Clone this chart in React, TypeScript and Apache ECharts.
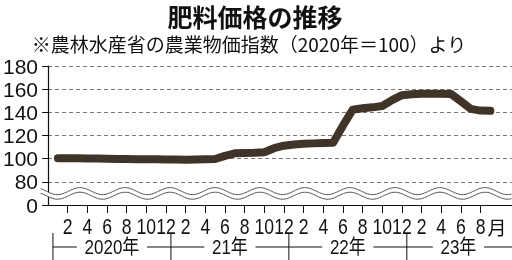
import React, { useEffect, useRef } from "react";
import * as echarts from "echarts";

const titleText = "肥料価格の推移";
const subtitleText = "※農林水産省の農業物価指数（2020年＝100）より";
const yearLabels = ["2020年", "21年", "22年", "23年"];
const values2020 = [100.4, 100.4, 100.3, 100.2, 100.1, 99.9, 99.8, 99.7, 99.6, 99.5, 99.4, 99.3];
const values2021 = [99.2, 99.1, 99.2, 99.4, 99.7, 102.4, 104.6, 104.9, 105.1, 105.6, 109.0, 111.2];
const values2022 = [112.3, 112.8, 113.2, 113.5, 113.7, 128.5, 142.3, 143.5, 144.3, 145.5, 150.5, 154.8];
const values2023 = [155.6, 156.0, 156.0, 156.0, 155.8, 149.5, 143.0, 141.5, 141.3];
const yTickValues = [60, 80, 100, 120, 140, 160, 180]; // 60 shown as "0" (broken axis)
const monthTicks = [2, 4, 6, 8, 10, 12, 14, 16, 18, 20, 22, 24, 26, 28, 30, 32, 34, 36, 38, 40, 42, 44];
const monthLabels = ["2", "4", "6", "8", "10", "12", "2", "4", "6", "8", "10", "12", "2", "4", "6", "8", "10", "12", "2", "4", "6", "8"];
const lastMonthSuffix = "月";

const LATIN = "'Liberation Sans', Arial, 'Noto Sans CJK JP', sans-serif";
const CJK = "'Noto Sans CJK JP', sans-serif";

export default function App() {
  const ref = useRef<HTMLDivElement>(null);
  useEffect(() => {
    const chart = echarts.init(ref.current!, null, { renderer: "svg" });
    const all = [...values2020, ...values2021, ...values2022, ...values2023];
    const data = all.map((v, k) => [k + 1, v]);
    chart.setOption({
      animation: false,
      grid: { left: 44, right: 0, top: 66, bottom: 55 },
      xAxis: {
        type: "value",
        min: 0,
        max: 47.2,
        interval: 2,
        splitLine: { show: false },
        axisLine: { show: true, lineStyle: { color: "#111", width: 1.2 } },
        axisTick: { show: true, customValues: monthTicks, length: 8, lineStyle: { color: "#111", width: 1 } },
        axisLabel: { show: false },
      },
      yAxis: {
        type: "value",
        min: yTickValues[0],
        max: yTickValues[yTickValues.length - 1],
        interval: 20,
        axisLine: { show: true, lineStyle: { color: "#111", width: 1.2 } },
        axisTick: { show: true, length: 6, lineStyle: { color: "#111" } },
        axisLabel: {
          margin: 10,
          color: "#111",
          fontSize: 21,
          fontFamily: LATIN,
          formatter: (v: number) => (v === yTickValues[0] ? "0" : String(v)),
        },
        splitLine: { show: true, lineStyle: { color: "#777", type: [4, 3], width: 1 } },
      },
      series: [
        {
          type: "line",
          data,
          showSymbol: false,
          symbol: "none",
          lineStyle: { color: "#403327", width: 8, cap: "round", join: "round" },
        },
      ],
    });

    const px = (x: number, y: number) => chart.convertToPixel({ gridIndex: 0 }, [x, y]) as number[];
    const [x0, yBase] = px(0, 60);
    const waveY = px(0, 70)[1];
    const top: number[][] = [];
    const bot: number[][] = [];
    for (let x = x0 - 7.5; x <= 512; x += 1.5) {
      const c = waveY - 3.5 * Math.cos((2 * Math.PI * (x - 80)) / 45);
      top.push([x, c - 2.3]);
      bot.push([x, c + 2.3]);
    }
    const g: any[] = [
      { type: "polygon", z: 100, shape: { points: [...top, ...bot.slice().reverse()] }, style: { fill: "#fff" } },
      { type: "polyline", z: 101, shape: { points: top }, style: { stroke: "#555", lineWidth: 1, fill: null } },
      { type: "polyline", z: 101, shape: { points: bot }, style: { stroke: "#555", lineWidth: 1, fill: null } },
      {
        type: "text",
        z: 100,
        style: { text: titleText, x: 255, y: 16, align: "center", verticalAlign: "middle", font: `bold 25px ${CJK}`, fill: "#111" },
      },
      {
        type: "text",
        z: 100,
        style: { text: subtitleText, x: 249, y: 43, align: "center", verticalAlign: "middle", font: `19px ${CJK}`, fill: "#111" },
      },
    ];
    // month tick labels (condensed to match the reference lettering)
    monthTicks.forEach((m, k) => {
      const [tx] = px(m, 60);
      g.push({
        type: "text",
        z: 100,
        x: tx,
        y: yBase + 21,
        scaleX: 0.8,
        style: { text: monthLabels[k], x: 0, y: 0, align: "center", verticalAlign: "middle", font: `22px ${LATIN}`, fill: "#111" },
      });
    });
    const lastTick = px(monthTicks[monthTicks.length - 1], 60);
    g.push({
      type: "text",
      z: 100,
      style: { text: lastMonthSuffix, x: lastTick[0] + 7, y: yBase + 21, align: "left", verticalAlign: "middle", font: `19px ${CJK}`, fill: "#111" },
    });
    // year row
    const rowY = yBase + 42;
    const seps = [0.5, 12.5, 24.5, 36.5].map((m) => px(m, 60)[0]);
    g.push({ type: "line", z: 100, shape: { x1: seps[0], y1: rowY, x2: 512, y2: rowY }, style: { stroke: "#111", lineWidth: 1 } });
    seps.forEach((sx) =>
      g.push({ type: "line", z: 100, shape: { x1: sx, y1: rowY - 14, x2: sx, y2: 260 }, style: { stroke: "#111", lineWidth: 1 } })
    );
    const centers = [(seps[0] + seps[1]) / 2, (seps[1] + seps[2]) / 2, (seps[2] + seps[3]) / 2, (seps[3] + 512) / 2 - 1];
    yearLabels.forEach((t, k) =>
      g.push({
        type: "text",
        z: 102,
        x: centers[k],
        y: rowY,
        scaleX: 0.85,
        style: {
          text: t,
          x: 0,
          y: 0,
          align: "center",
          verticalAlign: "middle",
          font: `20px ${LATIN}`,
          fill: "#111",
          backgroundColor: "#fff",
          padding: [0, 9],
        },
      })
    );
    chart.setOption({ graphic: g });
    return () => chart.dispose();
  }, []);
  return <div ref={ref} style={{ position: "fixed", left: 0, top: 0, width: 512, height: 260 }} />;
}
